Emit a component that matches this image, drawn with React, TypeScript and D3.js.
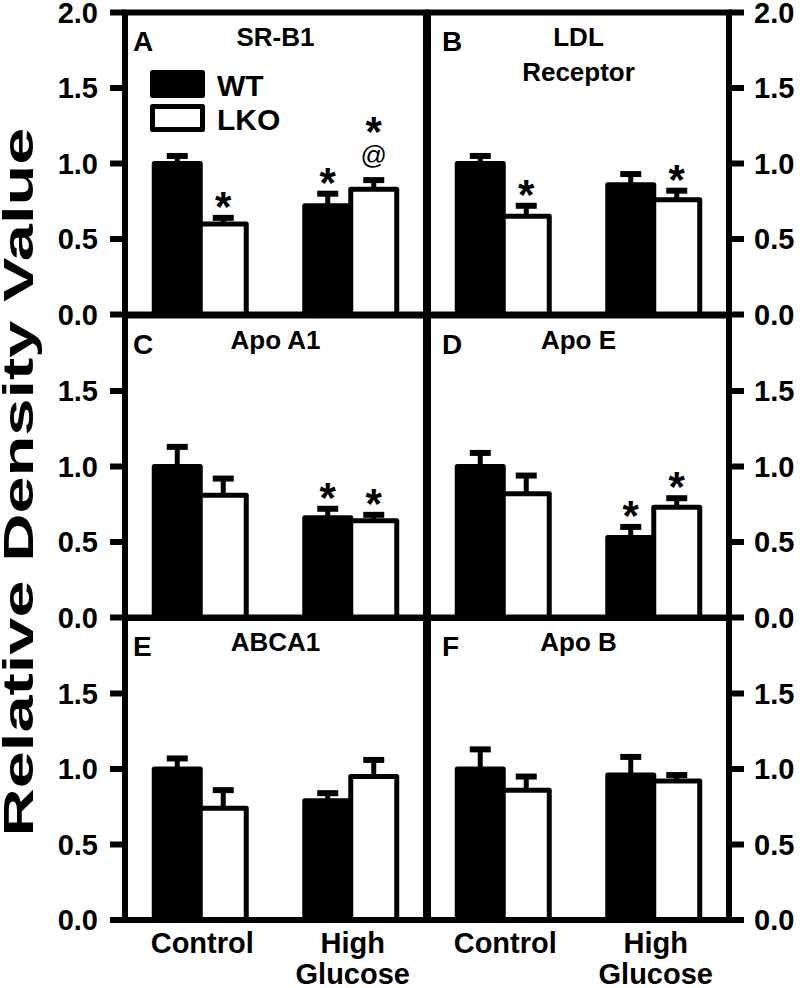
import React from "react";
import * as d3 from "d3";

// ---------- data ----------
const panelLetters = ["A", "B", "C", "D", "E", "F"];
const panelTitles = [["SR-B1"], ["LDL", "Receptor"], ["Apo A1"], ["Apo E"], ["ABCA1"], ["Apo B"]];
const groups = ["Control", "High Glucose"];
const groupLabelLines = [["Control"], ["High", "Glucose"]];
const seriesNames = ["WT", "LKO"];

// means [Control, High Glucose]
const wtMean = [
  [1.0, 0.72],
  [1.0, 0.86],
  [1.0, 0.66],
  [1.0, 0.53],
  [1.0, 0.79],
  [1.0, 0.96],
];
const wtSem = [
  [0.05, 0.08],
  [0.05, 0.07],
  [0.13, 0.06],
  [0.09, 0.07],
  [0.07, 0.05],
  [0.13, 0.12],
];
const lkoMean = [
  [0.6, 0.83],
  [0.65, 0.76],
  [0.81, 0.64],
  [0.82, 0.73],
  [0.74, 0.95],
  [0.86, 0.92],
];
const lkoSem = [
  [0.04, 0.06],
  [0.07, 0.06],
  [0.11, 0.04],
  [0.12, 0.06],
  [0.12, 0.11],
  [0.09, 0.04],
];
// significance marks, stacked bottom -> top; index order: [WT ctrl, LKO ctrl, WT HG, LKO HG]
const marks = [
  [[], ["*"], ["*"], ["@", "*"]],
  [[], ["*"], [], ["*"]],
  [[], [], ["*"], ["*"]],
  [[], [], ["*"], ["*"]],
  [[], [], [], []],
  [[], [], [], []],
];
const yTicks = [0, 0.5, 1.0, 1.5, 2.0];
const yTitle = "Relative Density Value";

// ---------- layout ----------
const W = 800;
const H = 988;
const colLeft = [125, 428];
const panelW = 301;
const rowTop = [12.5, 315.5, 618];
const panelH = 302;
const FONT = "'Liberation Sans', Arial, Helvetica, sans-serif";
const LW = 6;
const barStroke = 5;
const barW = 46;

export default function App() {
  const panels = panelLetters.map((letter, i) => {
    const row = Math.floor(i / 2);
    const col = i % 2;
    const left = colLeft[col];
    const top = rowTop[row];
    const bottom = top + panelH;
    const right = left + panelW;
    const y = d3.scaleLinear().domain([0, 2]).range([bottom, top]);
    const x = d3.scalePoint<string>().domain(groups).range([left, right]).padding(0.5);

    const bars: any[] = [];
    const errs: any[] = [];
    const anns: any[] = [];
    groups.forEach((g, gi) => {
      const cx = x(g) as number;
      [0, 1].forEach((s) => {
        const mean = s === 0 ? wtMean[i][gi] : lkoMean[i][gi];
        const sem = s === 0 ? wtSem[i][gi] : lkoSem[i][gi];
        const x0 = s === 0 ? cx - barW : cx;
        const bcx = x0 + barW / 2;
        bars.push(
          <rect
            key={`b${gi}${s}`}
            x={x0}
            y={y(mean)}
            width={barW}
            height={y(0) - y(mean)}
            fill={s === 0 ? "#000" : "#fff"}
            stroke="#000"
            strokeWidth={barStroke}
            strokeLinejoin="round"
          />
        );
        const capY = y(mean + sem);
        errs.push(
          <g key={`e${gi}${s}`}>
            <line x1={bcx} x2={bcx} y1={y(mean)} y2={capY} stroke="#000" strokeWidth={5} />
            <line x1={bcx - 10.5} x2={bcx + 10.5} y1={capY} y2={capY} stroke="#000" strokeWidth={6} />
          </g>
        );
        const list = marks[i][gi * 2 + s];
        let cursor = capY - 3;
        list.forEach((m, mi) => {
          if (m === "*") {
            const centre = cursor - 17;
            anns.push(
              <text key={`a${gi}${s}${mi}`} x={bcx} y={centre + 23} textAnchor="middle" fontSize={42} fontWeight="bold" fontFamily={FONT}>
                *
              </text>
            );
            cursor = centre - 8;
          } else {
            const centre = cursor - 20;
            anns.push(
              <text key={`a${gi}${s}${mi}`} x={bcx} y={centre + 7} textAnchor="middle" fontSize={26} fontWeight="normal" fontFamily={FONT}>
                @
              </text>
            );
            cursor = centre - 17;
          }
        });
      });
    });

    const ticks = row === 0 ? yTicks : yTicks.filter((t) => t < 2);
    const tickEls = ticks.map((t) =>
      col === 0 ? (
        <g key={`t${t}`}>
          <line x1={left - 15} x2={left} y1={y(t)} y2={y(t)} stroke="#000" strokeWidth={LW} />
          <text x={left - 27} y={y(t)} dy="0.36em" textAnchor="end" fontSize={29} fontWeight="bold" fontFamily={FONT}>
            {d3.format(".1f")(t)}
          </text>
        </g>
      ) : (
        <g key={`t${t}`}>
          <line x1={right} x2={right + 15} y1={y(t)} y2={y(t)} stroke="#000" strokeWidth={LW} />
          <text x={right + 25} y={y(t)} dy="0.36em" textAnchor="start" fontSize={29} fontWeight="bold" fontFamily={FONT}>
            {d3.format(".1f")(t)}
          </text>
        </g>
      )
    );

    const titleLines = panelTitles[i];
    return (
      <g key={letter}>
        {bars}
        {errs}
        <rect x={left} y={top} width={panelW} height={panelH} fill="none" stroke="#000" strokeWidth={LW} />
        {tickEls}
        <text x={col === 0 ? left + 8 : left + 14} y={top + 38} fontSize={28} fontWeight="bold" fontFamily={FONT}>
          {letter}
        </text>
        {titleLines.map((t, li) => (
          <text key={li} x={(left + right) / 2} y={top + 33 + li * 35} textAnchor="middle" fontSize={26} fontWeight="bold" fontFamily={FONT}>
            {t}
          </text>
        ))}
        {anns}
        {i === 0 && (
          <g>
            {seriesNames.map((n, si) => (
              <g key={n}>
                <rect
                  x={left + 27.5}
                  y={top + 60 + si * 34}
                  width={50}
                  height={23}
                  fill={si === 0 ? "#000" : "#fff"}
                  stroke="#000"
                  strokeWidth={5}
                  strokeLinejoin="round"
                />
                <text x={left + 92} y={top + 83 + si * 34} fontSize={30} fontWeight="bold" fontFamily={FONT}>
                  {n}
                </text>
              </g>
            ))}
          </g>
        )}
        {row === 2 &&
          groups.map((g, gi) =>
            groupLabelLines[gi].map((ln, li) => (
              <text key={`${g}${li}`} x={(x(g) as number) + 2} y={bottom + 33 + li * 31} textAnchor="middle" fontSize={29} fontWeight="bold" fontFamily={FONT}>
                {ln}
              </text>
            ))
          )}
      </g>
    );
  });

  return (
    <svg width={W} height={H} style={{ position: "absolute", left: 0, top: 0, background: "#fff" }}>
      <rect x={0} y={0} width={W} height={H} fill="#fff" />
      {panels}
      <text
        transform={`translate(33, 482) rotate(-90)`}
        textAnchor="middle"
        fontSize={42}
        fontWeight="bold"
        fontFamily={FONT}
        textLength={709}
        lengthAdjust="spacingAndGlyphs"
      >
        {yTitle}
      </text>
    </svg>
  );
}
